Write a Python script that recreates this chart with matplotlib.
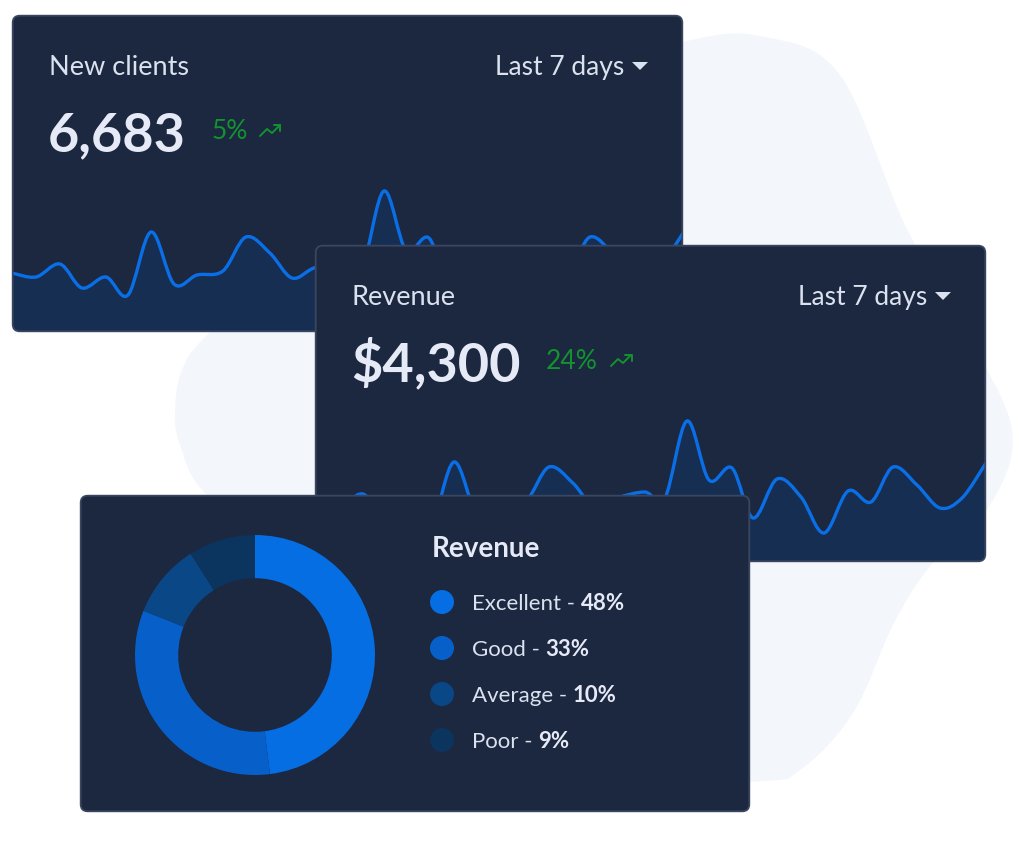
import matplotlib
matplotlib.use("Agg")
import matplotlib.pyplot as plt
from matplotlib.patches import FancyBboxPatch, PathPatch, Polygon, Circle
from matplotlib.path import Path
import numpy as np

plt.rcParams['font.family'] = ['Lato', 'DejaVu Sans']

# sparkline shown on both cards (x = day of the week window, y = value)
spark_days = [0, 0.25, 0.5, 0.73, 0.98, 1.21, 1.45, 1.69, 1.93, 2.2,
              2.44, 2.69, 2.92, 3.15, 3.44, 3.65, 3.88, 4.11, 4.35, 4.57,
              4.82, 5.07, 5.31, 5.56, 5.8, 6.03, 6.28, 6.52, 6.75, 7.0]
spark_vals = [59, 55, 68, 44, 55, 37, 100, 48, 57, 61,
              95, 79, 54, 64, 70, 64, 141, 82, 94, 44,
              83, 65, 29, 71, 60, 95, 77, 54, 64, 99]

period = "Last 7 days"
clients_label = "New clients"
clients_total = "6,683"
clients_change = "5%"
revenue_label = "Revenue"
revenue_total = "$4,300"
revenue_change = "24%"

donut_title = "Revenue"
donut_labels = ["Excellent", "Good", "Average", "Poor"]
donut_pcts = [48, 33, 10, 9]
donut_colors = ["#066ee3", "#0760c9", "#0a4786", "#0b345e"]

W, H = 1020, 858
CARD = "#1c2740"
EDGE = "#3a4660"
FILL = "#162e52"
LINE = "#0a6fe6"
TXT = "#dbe2ef"
BIG = "#e6eaf6"
GREEN = "#12932f"


def smooth(xs, ys, closed=False):
    # catmull-rom -> cubic bezier segments through the given points
    pts = np.column_stack([xs, ys]).astype(float)
    if closed:
        ext = np.vstack([pts[-1], pts, pts[0], pts[1]])
    else:
        ext = np.vstack([pts[0], pts, pts[-1]])
    verts = [ext[1]]
    codes = [Path.MOVETO]
    for i in range(1, len(ext) - 2):
        p0, p1, p2, p3 = ext[i - 1], ext[i], ext[i + 1], ext[i + 2]
        verts += [p1 + (p2 - p0) / 6, p2 - (p3 - p1) / 6, p2]
        codes += [Path.CURVE4] * 3
    return verts, codes


fig = plt.figure(figsize=(W / 100, H / 100), dpi=100)
fig.patch.set_facecolor("white")

# background blob
bg = fig.add_axes([0, 0, 1, 1], zorder=0)
bg.set_xlim(0, W)
bg.set_ylim(H, 0)
bg.axis("off")
bx = [683, 765, 840, 905, 965, 1012, 990, 931, 894, 853, 800, 750, 500, 300, 207, 180, 175, 182, 207, 300, 500]
by = [42, 37, 75, 225, 330, 430, 505, 565, 623, 713, 770, 782, 790, 560, 495, 445, 410, 370, 335, 250, 100]
v, c = smooth(bx, by, closed=True)
v.append(v[0]); c.append(Path.CLOSEPOLY)
bg.add_patch(PathPatch(Path(v, c), fc="#f3f6fb", ec="none"))


def place(x0, y0, w, h, z):
    return fig.add_axes([x0 / W, 1 - (y0 + h) / H, w / W, h / H], zorder=z)


def card(x0, y0, w, h, z):
    ax = place(x0, y0, w, h, z)
    ax.set_xlim(0, w)
    ax.set_ylim(h, 0)
    ax.axis("off")
    box = FancyBboxPatch((0.7, 0.7), w - 1.4, h - 1.4,
                         boxstyle="round,pad=0,rounding_size=7",
                         fc=CARD, ec="none", clip_on=False)
    ax.add_patch(box)
    return ax, box


def border(ax, w, h):
    ax.add_patch(FancyBboxPatch((0.7, 0.7), w - 1.4, h - 1.4,
                                boxstyle="round,pad=0,rounding_size=7",
                                fc="none", ec=EDGE, lw=1.3, clip_on=False, zorder=5))


def trend_icon(ax, x, y):
    ax.plot([x, x + 7, x + 12, x + 20], [y + 12, y + 5, y + 9, y + 1],
            color=GREEN, lw=1.4, solid_capstyle="round", solid_joinstyle="round")
    ax.plot([x + 14, x + 20.5, x + 20.5], [y + 0.5, y + 0.5, y + 7],
            color=GREEN, lw=1.4, solid_capstyle="round", solid_joinstyle="round")


def stat_card(x0, y0, z, label, total, change, change_x, icon_x):
    w, h = 671, 317
    ax, box = card(x0, y0, w, h, z)
    ax.text(37, 60, label, fontsize=19.5, color=TXT, va="baseline")
    ax.text(612, 60, period, fontsize=19, color=TXT, va="baseline", ha="right")
    ax.add_patch(Polygon([[620, 47], [636, 47], [628, 55]], closed=True, fc=TXT, ec="none"))
    ax.text(36, 136, total, fontsize=39, color=BIG, va="baseline", fontweight="bold")
    ax.text(change_x, 124, change, fontsize=19, color=GREEN, va="baseline")
    trend_icon(ax, icon_x, 109)

    sp = place(x0, y0, w, h, z + 0.5)
    sp.set_xlim(0, 7)
    sp.set_ylim(0, h)
    sp.axis("off")
    verts, codes = smooth(spark_days, spark_vals)
    fv = verts + [(spark_days[-1], 0), (spark_days[0], 0), verts[0]]
    fc = codes + [Path.LINETO, Path.LINETO, Path.CLOSEPOLY]
    fill = PathPatch(Path(fv, fc), fc=FILL, ec="none")
    fill.set_clip_path(box)
    sp.add_patch(fill)
    line = PathPatch(Path(verts, codes), fc="none", ec=LINE, lw=2.4, capstyle="round")
    line.set_clip_path(box)
    sp.add_patch(line)
    bd = place(x0, y0, w, h, z + 0.6)
    bd.set_xlim(0, w)
    bd.set_ylim(h, 0)
    bd.axis("off")
    border(bd, w, h)


stat_card(12, 15, 1, clients_label, clients_total, clients_change, 200, 248)
stat_card(315, 245, 2, revenue_label, revenue_total, revenue_change, 231, 296)

# donut card
ax3, box3 = card(80, 495, 670, 317, 3)
border(ax3, 670, 317)
ax3.text(352, 62, donut_title, fontsize=20, color=BIG, va="baseline", fontweight="bold")
for i, (lab, pct, col) in enumerate(zip(donut_labels, donut_pcts, donut_colors)):
    cy = 107 + i * 46
    ax3.add_patch(Circle((362, cy), 12, fc=col, ec="none"))
    t = ax3.text(392, cy + 8, lab + " - ", fontsize=16, color=TXT, va="baseline")
    ax3.annotate(f"{pct}%", xy=(1, 0), xycoords=t, va="bottom", ha="left",
                 fontsize=16, color=BIG, fontweight="bold")

dn = place(135, 535, 240, 240, 3.5)
dn.pie(donut_pcts, colors=donut_colors, startangle=90, counterclock=False,
       radius=1, wedgeprops=dict(width=0.36, edgecolor="none", linewidth=0))
dn.set_xlim(-1, 1)
dn.set_ylim(-1, 1)
dn.axis("off")

fig.savefig("out.png", dpi=100, facecolor="white")
